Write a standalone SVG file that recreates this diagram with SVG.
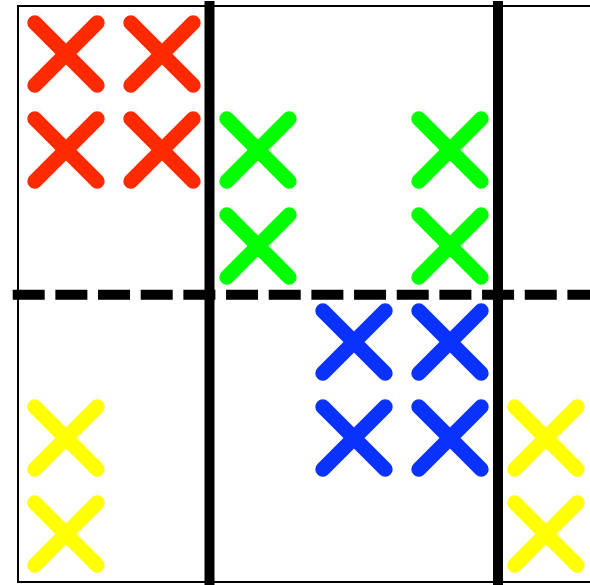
<svg xmlns="http://www.w3.org/2000/svg" width="590" height="585" viewBox="0 0 590 585">
<defs>
<style>
.x { stroke-width: 15; stroke-linecap: round; fill: none; }
.red { stroke: #ff2a00; }
.green { stroke: #00ff00; }
.blue { stroke: #0a32ff; }
.yellow { stroke: #ffff00; }
</style>
<path id="xm" d="M-31.2,-31.2 L31.2,31.2 M31.2,-31.2 L-31.2,31.2"/>
</defs>
<rect width="590" height="585" fill="#ffffff"/>
<rect x="18" y="6" width="600" height="576" fill="none" stroke="#000" stroke-width="2"/>
<g id="connectors">
<line x1="209.5" y1="1" x2="209.5" y2="590" stroke="#000" stroke-width="10"/>
<line x1="498" y1="1" x2="498" y2="590" stroke="#000" stroke-width="10"/>
<line x1="12.7" y1="294.7" x2="600" y2="294.7" stroke="#000" stroke-width="10" stroke-dasharray="32 10.67"/>
</g>
<g id="red">
<use href="#xm" class="x red" x="66" y="54"/>
<use href="#xm" class="x red" x="162" y="54"/>
<use href="#xm" class="x red" x="66" y="150"/>
<use href="#xm" class="x red" x="162" y="150"/>
</g>
<g id="green">
<use href="#xm" class="x green" x="258" y="150"/>
<use href="#xm" class="x green" x="450" y="150"/>
<use href="#xm" class="x green" x="258" y="246"/>
<use href="#xm" class="x green" x="450" y="246"/>
</g>
<g id="blue">
<use href="#xm" class="x blue" x="354" y="342"/>
<use href="#xm" class="x blue" x="450" y="342"/>
<use href="#xm" class="x blue" x="354" y="438"/>
<use href="#xm" class="x blue" x="450" y="438"/>
</g>
<g id="yellow">
<use href="#xm" class="x yellow" x="66" y="438"/>
<use href="#xm" class="x yellow" x="66" y="534"/>
<use href="#xm" class="x yellow" x="546" y="438"/>
<use href="#xm" class="x yellow" x="546" y="534"/>
</g>
</svg>
